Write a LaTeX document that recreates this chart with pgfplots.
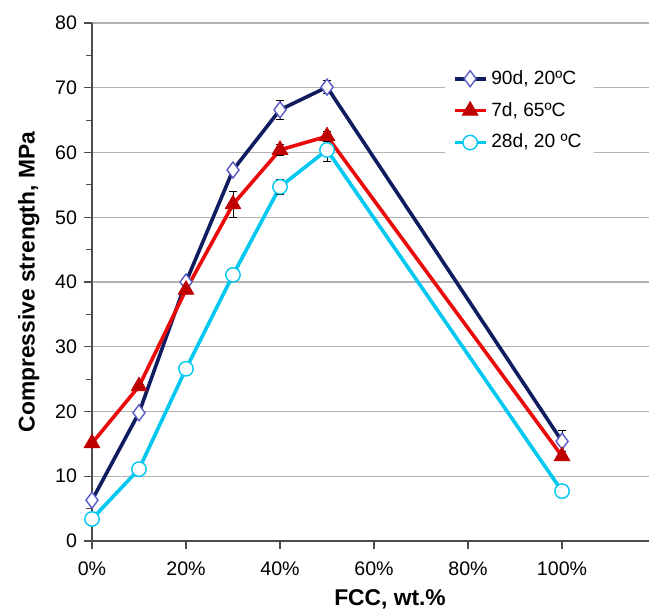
\documentclass[border=0pt]{standalone}
\usepackage{fontspec}
\setmainfont{Liberation Sans}
\usepackage{pgfplots}
\pgfplotsset{compat=1.18}

\definecolor{navyl}{RGB}{16,28,96}
\definecolor{diaedge}{RGB}{90,90,200}
\definecolor{redl}{RGB}{235,10,10}
\definecolor{redm}{RGB}{190,0,0}
\definecolor{cyanl}{RGB}{0,200,240}

\begin{document}
\begin{tikzpicture}
% frame of the whole picture, axis corner at the origin
\useasboundingbox (-46pt,-35.5pt) rectangle (278.5pt,270.5pt);
\begin{axis}[
  at={(0,0)}, anchor=south west,
  width=278.5pt, height=259pt, scale only axis,
  xmin=0, xmax=118.5, ymin=0, ymax=80,
  axis lines=left,
  axis line style={-, black!70, line width=0.6pt},
  xtick={0,20,40,60,80,100},
  xticklabels={0\%,20\%,40\%,60\%,80\%,100\%},
  ytick={0,10,...,80},
  minor y tick num=1,
  tick align=outside,
  major tick length=4pt, minor tick length=3pt,
  tick style={black!70, line width=0.6pt},
  ymajorgrids,
  grid style={black!30, line width=0.6pt},
  /pgf/number format/assume math mode=true,
  tick label style={font=\fontsize{9.8}{11}\selectfont},
  xticklabel style={yshift=-3pt},
  xlabel={\textbf{FCC, wt.\%}},
  ylabel={\textbf{Compressive strength, MPa}},
  label style={font=\fontsize{11.4}{13}\selectfont},
  xlabel style={at={(rel axis cs:0.535,0)}, anchor=north, yshift=-21pt},
  ylabel style={yshift=1pt},
  legend style={draw=none, fill=white, at={(rel axis cs:0.633,0.925)}, anchor=north west,
    font=\fontsize{9.6}{11}\selectfont, row sep=3.5pt, inner xsep=4pt},
  legend cell align=left,
  legend image code/.code={
    \draw[mark repeat=2, mark phase=2, #1]
      plot coordinates {(0cm,0cm) (0.27cm,0cm) (0.54cm,0cm)};},
  every axis plot/.append style={line width=1.8pt},
  error bars/error bar style={black, line width=0.5pt},
  error bars/error mark options={rotate=90, mark size=2pt, black, line width=0.5pt},
]

\addplot[navyl, mark=diamond*, mark size=4pt,
  mark options={fill=white, draw=diaedge, line width=0.7pt},
  error bars/.cd, y dir=both, y explicit]
  table[x=x, y=y, y error=e] {
  x   y    e
  0   6.3  0
  10  19.8 0.5
  20  40.0 0
  30  57.3 0.5
  40  66.6 1.5
  50  70.1 1.0
  100 15.4 1.6
};
\addlegendentry{90d, 20ºC}

\addplot[redl, mark=triangle*, mark size=4.6pt,
  mark options={fill=redm, draw=redm, line width=0.3pt},
  error bars/.cd, y dir=both, y explicit]
  table[x=x, y=y, y error=e] {
  x   y    e
  0   15.1 0
  10  23.9 0
  20  38.8 0
  30  52.0 2.0
  40  60.4 0.8
  50  62.5 0.8
  100 13.1 0
};
\addlegendentry{7d, 65ºC}

\addplot[cyanl, mark=*, mark size=3.6pt,
  mark options={fill=white, draw=cyanl, line width=0.7pt},
  error bars/.cd, y dir=both, y explicit]
  table[x=x, y=y, y error=e] {
  x   y    e
  0   3.4  0
  10  11.1 0
  20  26.6 0
  30  41.1 0.5
  40  54.7 1.2
  50  60.4 1.8
  100 7.7  0
};
\addlegendentry{28d, 20 ºC}
\end{axis}
\end{tikzpicture}
\end{document}
